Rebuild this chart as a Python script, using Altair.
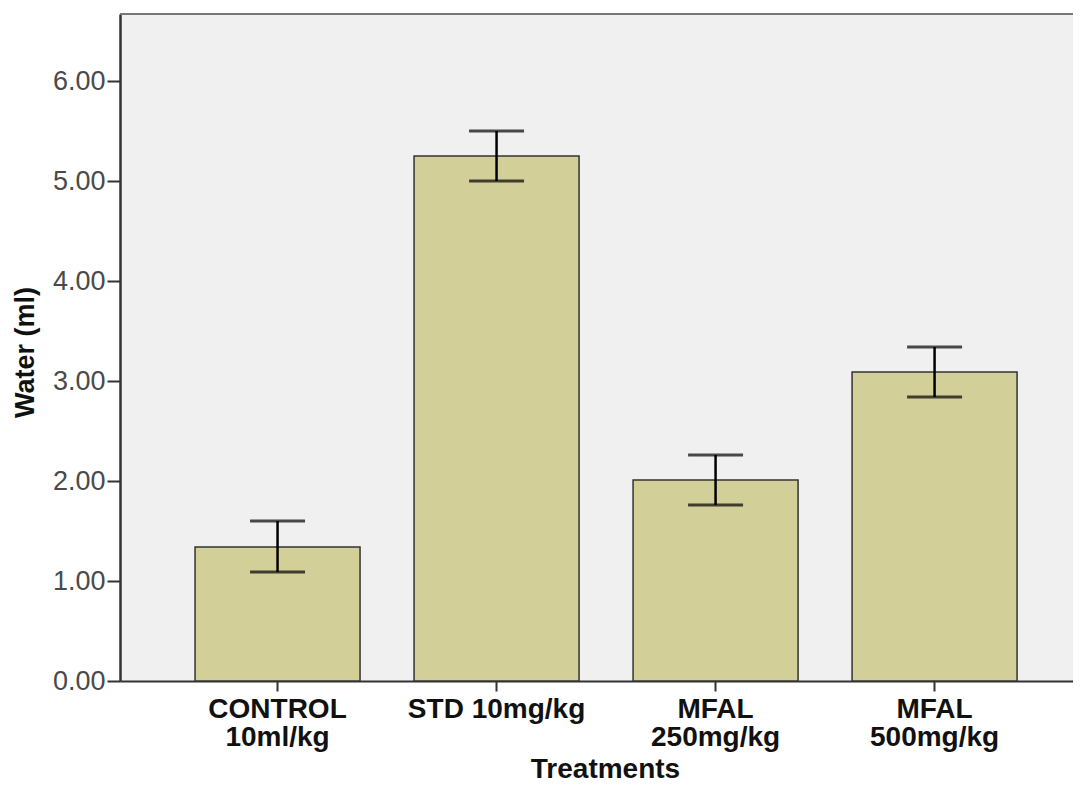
import altair as alt
import pandas as pd

categories = ["CONTROL|10ml/kg", "STD 10mg/kg", "MFAL|250mg/kg", "MFAL|500mg/kg"]
means = [1.34, 5.25, 2.01, 3.09]
err_low = [1.09, 5.00, 1.76, 2.84]
err_high = [1.60, 5.50, 2.26, 3.34]
y_ticks = [0, 1, 2, 3, 4, 5, 6]

df = pd.DataFrame({"cat": categories, "mean": means, "lo": err_low, "hi": err_high})

W, H = 953, 667
FONT = "Liberation Sans"

x = alt.X(
    "cat:N",
    sort=categories,
    scale=alt.Scale(paddingInner=0.2466, paddingOuter=0.299, align=0.573),
    axis=alt.Axis(
        title="Treatments",
        labelExpr="split(datum.label, '|')",
        labelAngle=0,
        labelFont=FONT,
        labelFontSize=28,
        labelFontWeight="bold",
        labelColor="#111111",
        labelLineHeight=28,
        labelPadding=4,
        labelBaseline="top",
        tickSize=10,
        tickWidth=2,
        tickColor="#333333",
        domainColor="#333333",
        domainWidth=2,
        titleFont=FONT,
        titleFontSize=28,
        titleFontWeight="bold",
        titleColor="#111111",
        titleX=485,
        titleY=88,
        titleAlign="center",
        titleBaseline="middle",
    ),
)

y_scale = alt.Scale(domain=[0, 6.67], nice=False, zero=True)

bars = alt.Chart(df).mark_bar(
    color="#d3cf98", stroke="#333333", strokeWidth=1.5
).encode(
    x=x,
    y=alt.Y(
        "mean:Q",
        scale=y_scale,
        axis=alt.Axis(
            title="Water (ml)",
            values=y_ticks,
            format=".2f",
            grid=False,
            labelFont=FONT,
            labelFontSize=27,
            labelColor="#4a4a4a",
            labelPadding=2,
            tickSize=13,
            tickWidth=2,
            tickColor="#333333",
            domainColor="#333333",
            domainWidth=2.5,
            titleFont=FONT,
            titleFontSize=27,
            titleFontWeight="bold",
            titleColor="#111111",
            titleX=-95,
            titleY=338,
            titleAngle=-90,
            titleAlign="center",
            titleBaseline="middle",
        ),
    ),
)

rules = alt.Chart(df).mark_rule(color="#000000", strokeWidth=2.5).encode(
    x=alt.X("cat:N", sort=categories),
    y=alt.Y("lo:Q", scale=y_scale),
    y2="hi:Q",
)

caps_hi = alt.Chart(df).mark_tick(color="#000000", size=55, thickness=3).encode(
    x=alt.X("cat:N", sort=categories),
    y=alt.Y("hi:Q", scale=y_scale),
)
caps_lo = alt.Chart(df).mark_tick(color="#000000", size=55, thickness=3).encode(
    x=alt.X("cat:N", sort=categories),
    y=alt.Y("lo:Q", scale=y_scale),
)

top_border = alt.Chart(df).mark_rule(color="#777777", strokeWidth=2).encode(
    x=alt.value(0), x2=alt.value(W), y=alt.value(0)
)

chart = alt.layer(bars, rules, caps_hi, caps_lo, top_border).properties(
    width=W,
    height=H,
    autosize=alt.AutoSizeParams(type="none"),
    padding={"left": 112, "top": 6, "right": 0, "bottom": 104},
).configure_view(fill="#f0f0f0", strokeWidth=0)

chart.save("out.html", embed_options={"renderer": "svg", "actions": False})
